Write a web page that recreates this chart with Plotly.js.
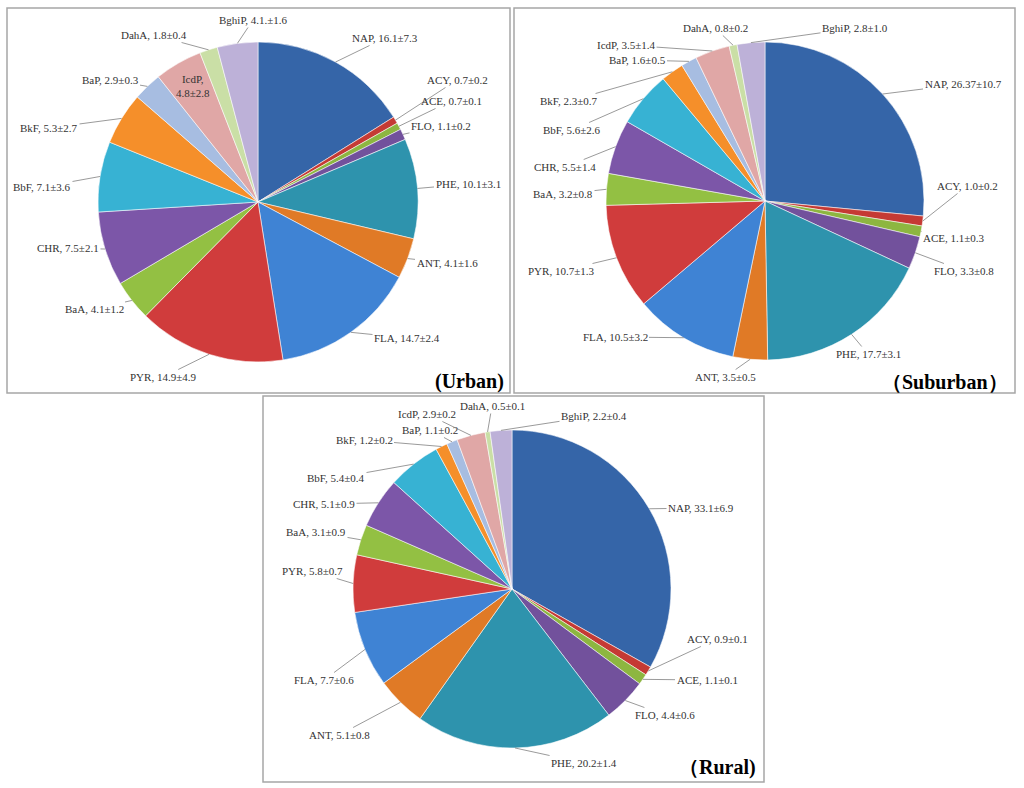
<!DOCTYPE html>
<html>
<head>
<meta charset="utf-8">
<script src="https://cdn.plot.ly/plotly-3.0.1.min.js"></script>
<style>html,body{margin:0;padding:0;background:#fff;}#chart{width:1024px;height:788px;}</style>
</head>
<body>
<div id="chart"></div>
<script>
// ---- data ----
const categories = ['NAP','ACY','ACE','FLO','PHE','ANT','FLA','PYR','BaA','CHR','BbF','BkF','BaP','IcdP','DahA','BghiP'];
const urbanMean    = [16.1,0.7,0.7,1.1,10.1,4.1,14.7,14.9,4.1,7.5,7.1,5.3,2.9,4.8,1.8,4.1];
const urbanSD      = [7.3,0.2,0.1,0.2,3.1,1.6,2.4,4.9,1.2,2.1,3.6,2.7,0.3,2.8,0.4,1.6];
const suburbanMean = [26.37,1.0,1.1,3.3,17.7,3.5,10.5,10.7,3.2,5.5,5.6,2.3,1.6,3.5,0.8,2.8];
const suburbanSD   = [10.7,0.2,0.3,0.8,3.1,0.5,3.2,1.3,0.8,1.4,2.6,0.7,0.5,1.4,0.2,1.0];
const ruralMean    = [33.1,0.9,1.1,4.4,20.2,5.1,7.7,5.8,3.1,5.1,5.4,1.2,1.1,2.9,0.5,2.2];
const ruralSD      = [6.9,0.1,0.1,0.6,1.4,0.8,0.6,0.7,0.9,0.9,0.4,0.2,0.2,0.2,0.1,0.4];
const panelTitles  = ['(Urban)','（Suburban）','（Rural)'];

// ---- styles / layout positions (not data) ----
const sliceColors = ['#3565A8','#C53A34','#8DB640','#72519C','#2E93AD','#E07A26','#3F83D4','#D03C3C',
                     '#93C043','#7C56A8','#37B2D3','#F58F2A','#A7BDE1','#E0A7A6','#CADFA6','#BDB1D8'];
const W = 1024, H = 788;
const X = px => px / W, Y = py => 1 - py / H;
const pieGeom = [ {cx:258, cy:202, r:160}, {cx:765, cy:201, r:159}, {cx:512, cy:589, r:159} ];
const labelPos = [
  [[385,38],[457,80],[451,101],[441,126],[468,184],[447,263],[407,338],[163,377],
   [94,309],[68,248],[42,187],[49,128],[110,80],[193,86],[154,35],[253,20]],
  [[963,84],[967,186],[954,238],[964,271],[868,354],[725,377],[615,337],[561,271],
   [563,194],[565,167],[572,130],[569,101],[637,60],[626,45],[715,28],[855,28]],
  [[701,508],[717,639],[707,680],[665,715],[584,763],[339,735],[324,680],[312,571],
   [316,532],[324,504],[336,478],[364,440],[430,430],[427,414],[492,406],[594,416]]
];
const insideLabel = [[13],[],[]];
const panelBoxes = [[7,8,510,393],[514,8,1015,393],[263,396,764,782]];
const titlePos = [[506,381],[1010,382],[758,767]];
const serif = '"Liberation Serif", "Times New Roman", "DejaVu Serif", serif';

const fmt = v => { const s = v.toFixed(2); return s.endsWith('0') ? v.toFixed(1) : s; };
const means = [urbanMean, suburbanMean, ruralMean];
const sds = [urbanSD, suburbanSD, ruralSD];

const labelTexts = means.map((m, p) => categories.map((c, i) => c + ', ' + fmt(m[i]) + '±' + sds[p][i].toFixed(1)));
labelTexts[0][15] = 'BghiP, 4.1.±1.6';
labelTexts[0][13] = 'IcdP,<br>4.8±2.8';

const traces = [], annotations = [], shapes = [];
const labelFont = {family:serif, size:11, color:'#333333'};

means.forEach((vals, p) => {
  const g = pieGeom[p];
  traces.push({
    type:'pie', labels:categories, values:vals, sort:false, direction:'clockwise', rotation:0,
    textinfo:'none', hoverinfo:'label+value', showlegend:false,
    marker:{colors:sliceColors, line:{color:'rgba(255,255,255,0.55)', width:1}},
    domain:{x:[X(g.cx-g.r), X(g.cx+g.r)], y:[Y(g.cy+g.r), Y(g.cy-g.r)]}
  });
  const total = vals.reduce((a,b)=>a+b,0);
  let cum = 0;
  vals.forEach((v, i) => {
    const mid = (cum + v/2) / total * 2 * Math.PI;
    cum += v;
    const ex = g.cx + g.r * Math.sin(mid), ey = g.cy - g.r * Math.cos(mid);
    const [tx, ty] = labelPos[p][i];
    if (insideLabel[p].includes(i)) {
      annotations.push({xref:'paper', yref:'paper', x:X(tx), y:Y(ty), text:labelTexts[p][i],
        showarrow:false, font:labelFont, xanchor:'center', yanchor:'middle'});
    } else {
      annotations.push({xref:'paper', yref:'paper', x:X(ex), y:Y(ey), ax:tx-ex, ay:ty-ey,
        text:labelTexts[p][i], showarrow:true, arrowhead:0, arrowwidth:0.8, arrowcolor:'#808080',
        standoff:0, startstandoff:0, font:labelFont});
    }
  });
  const b = panelBoxes[p];
  shapes.push({type:'rect', xref:'paper', yref:'paper', x0:X(b[0]), x1:X(b[2]), y0:Y(b[3]), y1:Y(b[1]),
    line:{color:'#A6A6A6', width:1.5}});
  annotations.push({xref:'paper', yref:'paper', x:X(titlePos[p][0]), y:Y(titlePos[p][1]),
    xanchor:'right', yanchor:'middle', showarrow:false, text:'<b>'+panelTitles[p]+'</b>',
    font:{family:serif, size:20, color:'#000'}});
});

Plotly.newPlot('chart', traces, {
  width:W, height:H, margin:{l:0,r:0,t:0,b:0}, paper_bgcolor:'#fff',
  font:{family:serif},
  showlegend:false, annotations:annotations, shapes:shapes
}, {displayModeBar:false, staticPlot:true});
</script>
</body>
</html>
